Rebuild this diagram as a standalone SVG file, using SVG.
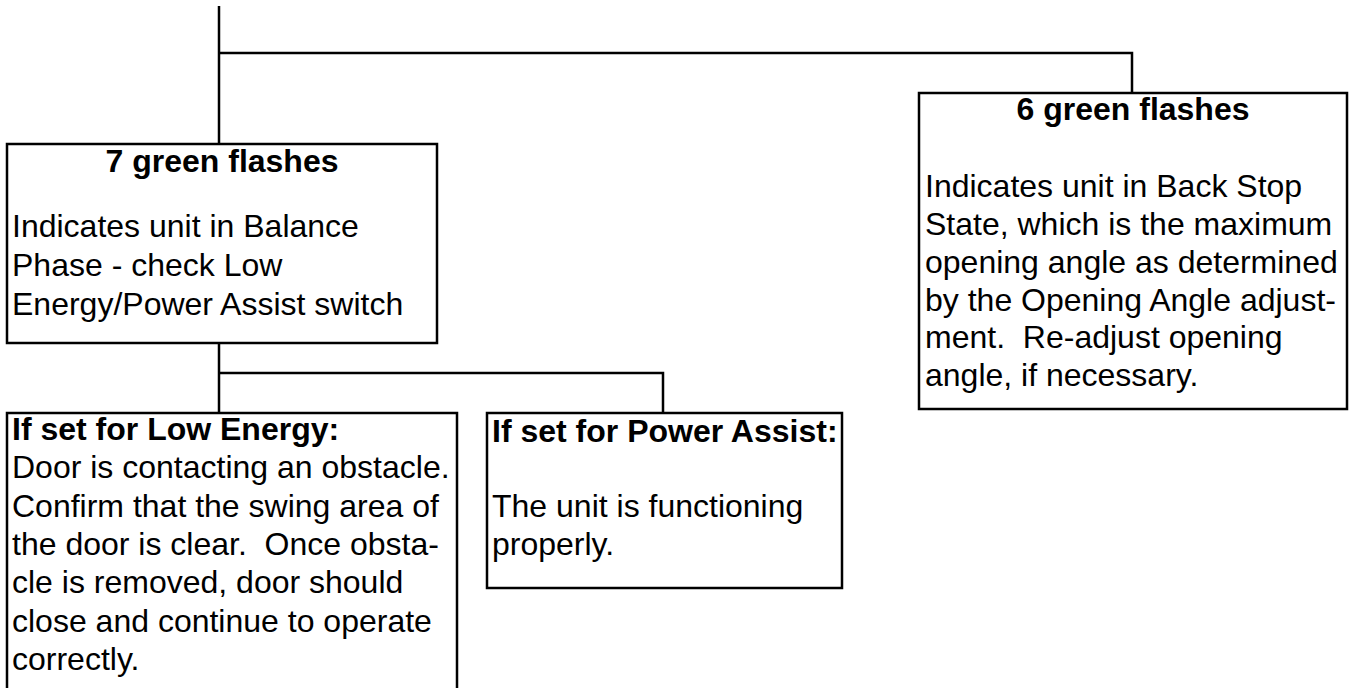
<svg xmlns="http://www.w3.org/2000/svg" width="1349" height="688" viewBox="0 0 1349 688">
<style>
.box{fill:#fff;stroke:#000;stroke-width:2.5}
.ln{fill:none;stroke:#000;stroke-width:2.5}
text{font-family:"Liberation Sans",Arial,sans-serif;font-size:32px;fill:#000}
.t{font-weight:bold}
</style>
<rect width="1349" height="688" fill="#fff"/>
<g id="connectors">
<polyline class="ln" points="219,6 219,144"/>
<polyline class="ln" points="219,53 1132,53 1132,93"/>
<polyline class="ln" points="219,343 219,413"/>
<polyline class="ln" points="219,373 663,373 663,413"/>
</g>
<g id="node-7-green">
<rect class="box" x="7" y="144" width="430" height="199"/>
<text class="t" x="222" y="172" text-anchor="middle">7 green flashes</text>
<text x="12" y="237">Indicates unit in Balance</text>
<text x="12" y="276">Phase - check Low</text>
<text x="12" y="315">Energy/Power Assist switch</text>
</g>
<g id="node-6-green">
<rect class="box" x="919" y="93" width="428" height="316"/>
<text class="t" x="1133" y="120" text-anchor="middle">6 green flashes</text>
<text x="925" y="197">Indicates unit in Back Stop</text>
<text x="925" y="235">State, which is the maximum</text>
<text x="925" y="273">opening angle as determined</text>
<text x="925" y="311">by the Opening Angle adjust-</text>
<text x="925" y="348" xml:space="preserve">ment.  Re-adjust opening</text>
<text x="925" y="386">angle, if necessary.</text>
</g>
<g id="node-low-energy">
<rect class="box" x="7" y="413" width="450" height="290"/>
<text class="t" x="12" y="440">If set for Low Energy:</text>
<text x="12" y="478">Door is contacting an obstacle.</text>
<text x="12" y="517">Confirm that the swing area of</text>
<text x="12" y="555" xml:space="preserve">the door is clear.  Once obsta-</text>
<text x="12" y="593">cle is removed, door should</text>
<text x="12" y="632">close and continue to operate</text>
<text x="12" y="670">correctly.</text>
</g>
<g id="node-power-assist">
<rect class="box" x="487" y="413" width="355" height="175"/>
<text class="t" x="492" y="442">If set for Power Assist:</text>
<text x="492" y="517">The unit is functioning</text>
<text x="492" y="555">properly.</text>
</g>
</svg>
